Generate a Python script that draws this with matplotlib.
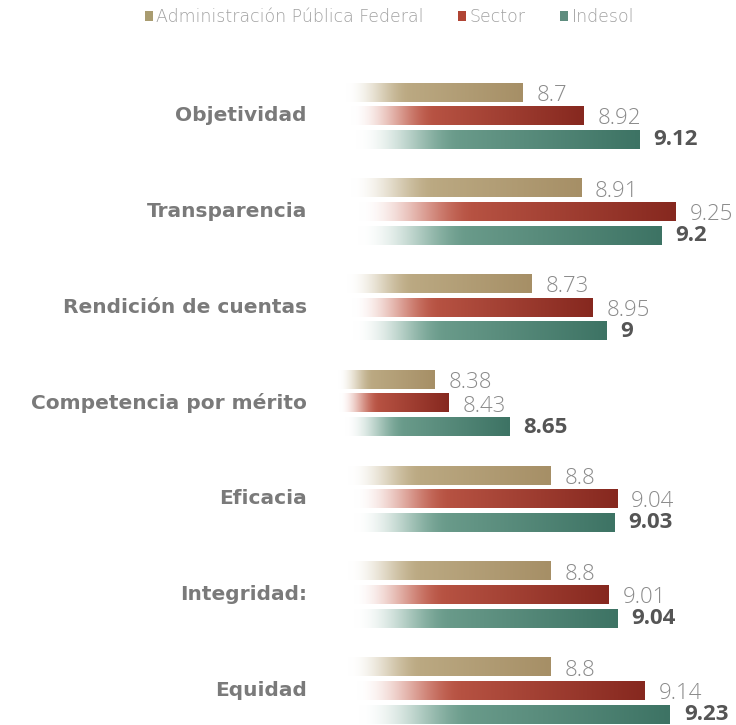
import numpy as np
import matplotlib
matplotlib.use("Agg")
import matplotlib.pyplot as plt
from matplotlib.colors import to_rgb
from matplotlib.patches import Patch
import matplotlib.transforms as mtransforms

categories = ["Objetividad", "Transparencia", "Rendición de cuentas",
              "Competencia por mérito", "Eficacia", "Integridad:", "Equidad"]
series_names = ["Administración Pública Federal", "Sector", "Indesol"]
apf = [8.7, 8.91, 8.73, 8.38, 8.8, 8.8, 8.8]
sector = [8.92, 9.25, 8.95, 8.43, 9.04, 9.01, 9.14]
indesol = [9.12, 9.2, 9.0, 8.65, 9.03, 9.04, 9.23]

base = 8.0
light_cols = ["#c4b48e", "#cc6552", "#7dac9b"]
dark_cols = ["#a68f66", "#86281f", "#3d7364"]
legend_cols = ["#a99c70", "#b04434", "#5f8d7f"]

fig = plt.figure(figsize=(7.36, 7.25), dpi=100)
ax = fig.add_axes([329 / 736, 0, 407 / 736, 1])
ax.set_xlim(8.0, 9.469)
ax.set_ylim(6.36, -1.21)
ax.axis("off")

offsets = [-0.245, 0.0, 0.25]
h = 0.19
all_series = [apf, sector, indesol]


def grad(light, dark, n=256):
    t = np.linspace(0, 1, n)
    l = np.array(to_rgb(light))
    d = np.array(to_rgb(dark))
    mix = np.clip((t - 0.15) / 0.85, 0, 1)[:, None]
    rgb = l * (1 - mix) + d * mix
    a = np.clip((t - 0.09) / 0.33, 0, 1)
    a = a * a * (3 - 2 * a)
    rgb = rgb * a[:, None] + (1 - a[:, None]) * 1.0
    img = np.ones((2, n, 3))
    img[:, :, :] = rgb[None, :, :]
    return img


for s, vals in enumerate(all_series):
    g = grad(light_cols[s], dark_cols[s])
    for i, v in enumerate(vals):
        y = i + offsets[s]
        ax.imshow(g, extent=(base, v, y + h / 2, y - h / 2), aspect="auto",
                  interpolation="bilinear", zorder=2)
        if s < 2:
            ax.annotate(f"{v:g}", (v, y), xytext=(14, -3), textcoords="offset pixels",
                        ha="left", va="center", fontsize=16, color="#8a8a8a",
                        family="Open Sans", fontweight="light", annotation_clip=False)
        else:
            ax.annotate(f"{v:g}", (v, y), xytext=(14, 0), textcoords="offset pixels",
                        ha="left", va="center", fontsize=16, color="#555555",
                        family="Open Sans", fontweight="bold", annotation_clip=False)

ax.set_xlim(8.0, 9.469)
ax.set_ylim(6.36, -1.21)

trans = mtransforms.blended_transform_factory(fig.transFigure, ax.transData)
for i, c in enumerate(categories):
    ax.text(307 / 736, i, c, transform=trans, ha="right", va="center",
            fontsize=14.5, fontweight="bold", color="#7a7a7a", family="DejaVu Sans")

handles = [Patch(facecolor=legend_cols[k], edgecolor="none") for k in range(3)]
fig.legend(handles, series_names, loc="center", bbox_to_anchor=(0.529, 0.976),
           ncol=3, frameon=False, handlelength=0.45, handleheight=0.55,
           handletextpad=0.2, columnspacing=2.0,
           prop={"family": "DejaVu Sans", "weight": "light", "size": 12.5},
           labelcolor="#a0a0a0")

fig.savefig("out.png", dpi=100, facecolor="white")
